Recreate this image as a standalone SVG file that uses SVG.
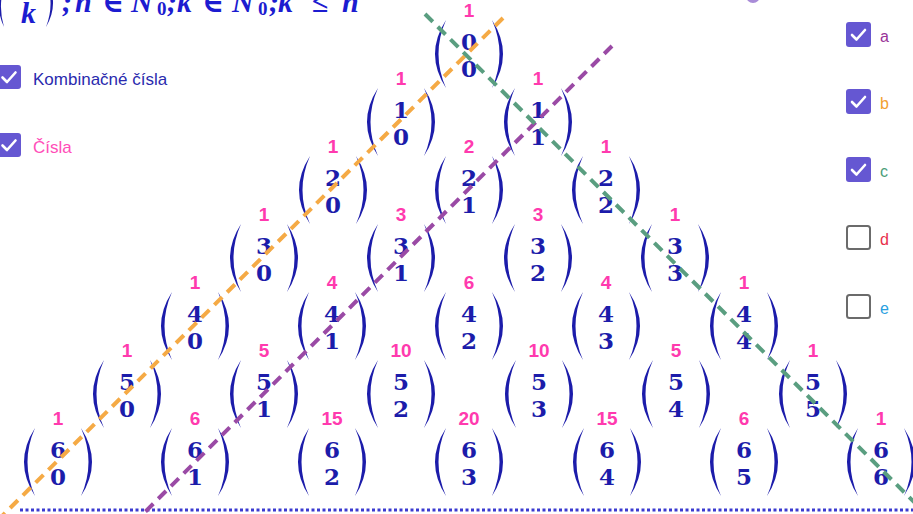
<svg xmlns="http://www.w3.org/2000/svg" xmlns:xlink="http://www.w3.org/1999/xlink" width="913" height="514" viewBox="0 0 913 514">
<style>
.v{font-family:"Liberation Sans",Arial,sans-serif;font-weight:bold;font-size:19px;fill:#ff3aae;text-anchor:middle}
.d{font-family:"DejaVu Serif","Liberation Serif",serif;font-weight:bold;font-size:23px;fill:#1c1caa;text-anchor:middle}
.p{fill:#1c1caa}
.f{font-family:"Liberation Serif","DejaVu Serif",serif;font-weight:bold;font-style:italic;font-size:30px;fill:#1c1cd0}
.fs{font-family:"Liberation Serif","DejaVu Serif",serif;font-weight:bold;font-size:19px;fill:#1c1cd0}
.lbl{font-family:"Liberation Sans",Arial,sans-serif;font-size:16px}
.on{fill:#6557d2}
.off{fill:#ffffff;stroke:#6b6b6b;stroke-width:2}
.chk{fill:none;stroke:#ffffff;stroke-width:2.6;stroke-linecap:round;stroke-linejoin:round}
.dash{fill:none;stroke-width:4;stroke-dasharray:11 7}
</style>
<defs>
<path id="lp" class="p" d="M -23 20 Q -45 54 -23 88 Q -38 54 -23 20 Z"/>
<path id="rp" class="p" d="M 23 20 Q 45 54 23 88 Q 38 54 23 20 Z"/>
<polyline id="tick" class="chk" points="5.5,12.5 10,17 18.5,7.5"/>
</defs>

<g id="formula">
<path class="p" d="M 6 -20 Q -7 4 4 27 Q -3 4 6 -20 Z"/>
<text class="f" x="21" y="23">k</text>
<path class="p" d="M 44 -25 Q 61 2 46 27 Q 56 2 44 -25 Z"/>
<text class="f" x="62" y="12">;</text>
<text class="f" x="75" y="12">n</text>
<text class="f" x="102" y="12" style="font-style:normal">∈</text>
<text class="f" x="131" y="12">N</text>
<text class="fs" x="157" y="15">0</text>
<text class="f" x="167" y="12">;</text>
<text class="f" x="177" y="12">k</text>
<text class="f" x="202" y="12" style="font-style:normal">∈</text>
<text class="f" x="232" y="12">N</text>
<text class="fs" x="258" y="15">0</text>
<text class="f" x="269" y="12">;</text>
<text class="f" x="278" y="12">k</text>
<text class="f" x="312" y="12" style="font-style:normal">≤</text>
<text class="f" x="342" y="12">n</text>
</g>

<circle id="slider-point" cx="753" cy="-4" r="7" fill="#a98cd8"/>

<g id="cb-komb">
<rect class="on" x="-3" y="65" width="24" height="24" rx="3"/>
<use xlink:href="#tick" x="-3" y="65"/>
<text class="lbl" x="33" y="85" style="font-size:17px" fill="#2a2aae">Kombinačné čísla</text>
</g>
<g id="cb-cisla">
<rect class="on" x="-3" y="133" width="24" height="24" rx="3"/>
<use xlink:href="#tick" x="-3" y="133"/>
<text class="lbl" x="33" y="153" style="font-size:17px" fill="#ff4db8">Čísla</text>
</g>

<g id="cb-a"><rect class="on" x="846" y="22" width="25" height="25" rx="3"/><use xlink:href="#tick" x="846.5" y="22.5"/><text class="lbl" x="880" y="42" fill="#993399">a</text></g>
<g id="cb-b"><rect class="on" x="846" y="89" width="25" height="25" rx="3"/><use xlink:href="#tick" x="846.5" y="89.5"/><text class="lbl" x="880" y="109" fill="#f2a030">b</text></g>
<g id="cb-c"><rect class="on" x="846" y="157" width="25" height="25" rx="3"/><use xlink:href="#tick" x="846.5" y="157.5"/><text class="lbl" x="880" y="177" fill="#4c9e7a">c</text></g>
<g id="cb-d"><rect class="off" x="847" y="226" width="23" height="23" rx="2.5"/><text class="lbl" x="880" y="245" fill="#e8304c">d</text></g>
<g id="cb-e"><rect class="off" x="847" y="295" width="23" height="23" rx="2.5"/><text class="lbl" x="880" y="314" fill="#2aa0e0">e</text></g>

<g id="nodes">
<g id="c0-0" transform="translate(469,0)"><text class="v" y="17">1</text><use xlink:href="#lp"/><use xlink:href="#rp"/><text class="d" y="50">0</text><text class="d" y="77">0</text></g>

<g id="c1-0" transform="translate(401,68)"><text class="v" y="17">1</text><use xlink:href="#lp"/><use xlink:href="#rp"/><text class="d" y="50">1</text><text class="d" y="77">0</text></g>
<g id="c1-1" transform="translate(538,68)"><text class="v" y="17">1</text><use xlink:href="#lp"/><use xlink:href="#rp"/><text class="d" y="50">1</text><text class="d" y="77">1</text></g>

<g id="c2-0" transform="translate(333,136)"><text class="v" y="17">1</text><use xlink:href="#lp"/><use xlink:href="#rp"/><text class="d" y="50">2</text><text class="d" y="77">0</text></g>
<g id="c2-1" transform="translate(469,136)"><text class="v" y="17">2</text><use xlink:href="#lp"/><use xlink:href="#rp"/><text class="d" y="50">2</text><text class="d" y="77">1</text></g>
<g id="c2-2" transform="translate(606,136)"><text class="v" y="17">1</text><use xlink:href="#lp"/><use xlink:href="#rp"/><text class="d" y="50">2</text><text class="d" y="77">2</text></g>

<g id="c3-0" transform="translate(264,204)"><text class="v" y="17">1</text><use xlink:href="#lp"/><use xlink:href="#rp"/><text class="d" y="50">3</text><text class="d" y="77">0</text></g>
<g id="c3-1" transform="translate(401,204)"><text class="v" y="17">3</text><use xlink:href="#lp"/><use xlink:href="#rp"/><text class="d" y="50">3</text><text class="d" y="77">1</text></g>
<g id="c3-2" transform="translate(538,204)"><text class="v" y="17">3</text><use xlink:href="#lp"/><use xlink:href="#rp"/><text class="d" y="50">3</text><text class="d" y="77">2</text></g>
<g id="c3-3" transform="translate(675,204)"><text class="v" y="17">1</text><use xlink:href="#lp"/><use xlink:href="#rp"/><text class="d" y="50">3</text><text class="d" y="77">3</text></g>

<g id="c4-0" transform="translate(195,272)"><text class="v" y="17">1</text><use xlink:href="#lp"/><use xlink:href="#rp"/><text class="d" y="50">4</text><text class="d" y="77">0</text></g>
<g id="c4-1" transform="translate(332,272)"><text class="v" y="17">4</text><use xlink:href="#lp"/><use xlink:href="#rp"/><text class="d" y="50">4</text><text class="d" y="77">1</text></g>
<g id="c4-2" transform="translate(469,272)"><text class="v" y="17">6</text><use xlink:href="#lp"/><use xlink:href="#rp"/><text class="d" y="50">4</text><text class="d" y="77">2</text></g>
<g id="c4-3" transform="translate(606,272)"><text class="v" y="17">4</text><use xlink:href="#lp"/><use xlink:href="#rp"/><text class="d" y="50">4</text><text class="d" y="77">3</text></g>
<g id="c4-4" transform="translate(744,272)"><text class="v" y="17">1</text><use xlink:href="#lp"/><use xlink:href="#rp"/><text class="d" y="50">4</text><text class="d" y="77">4</text></g>

<g id="c5-0" transform="translate(127,340)"><text class="v" y="17">1</text><use xlink:href="#lp"/><use xlink:href="#rp"/><text class="d" y="50">5</text><text class="d" y="77">0</text></g>
<g id="c5-1" transform="translate(264,340)"><text class="v" y="17">5</text><use xlink:href="#lp"/><use xlink:href="#rp"/><text class="d" y="50">5</text><text class="d" y="77">1</text></g>
<g id="c5-2" transform="translate(401,340)"><text class="v" y="17">10</text><use xlink:href="#lp"/><use xlink:href="#rp"/><text class="d" y="50">5</text><text class="d" y="77">2</text></g>
<g id="c5-3" transform="translate(539,340)"><text class="v" y="17">10</text><use xlink:href="#lp"/><use xlink:href="#rp"/><text class="d" y="50">5</text><text class="d" y="77">3</text></g>
<g id="c5-4" transform="translate(676,340)"><text class="v" y="17">5</text><use xlink:href="#lp"/><use xlink:href="#rp"/><text class="d" y="50">5</text><text class="d" y="77">4</text></g>
<g id="c5-5" transform="translate(813,340)"><text class="v" y="17">1</text><use xlink:href="#lp"/><use xlink:href="#rp"/><text class="d" y="50">5</text><text class="d" y="77">5</text></g>

<g id="c6-0" transform="translate(58,408)"><text class="v" y="17">1</text><use xlink:href="#lp"/><use xlink:href="#rp"/><text class="d" y="50">6</text><text class="d" y="77">0</text></g>
<g id="c6-1" transform="translate(195,408)"><text class="v" y="17">6</text><use xlink:href="#lp"/><use xlink:href="#rp"/><text class="d" y="50">6</text><text class="d" y="77">1</text></g>
<g id="c6-2" transform="translate(332,408)"><text class="v" y="17">15</text><use xlink:href="#lp"/><use xlink:href="#rp"/><text class="d" y="50">6</text><text class="d" y="77">2</text></g>
<g id="c6-3" transform="translate(469,408)"><text class="v" y="17">20</text><use xlink:href="#lp"/><use xlink:href="#rp"/><text class="d" y="50">6</text><text class="d" y="77">3</text></g>
<g id="c6-4" transform="translate(607,408)"><text class="v" y="17">15</text><use xlink:href="#lp"/><use xlink:href="#rp"/><text class="d" y="50">6</text><text class="d" y="77">4</text></g>
<g id="c6-5" transform="translate(744,408)"><text class="v" y="17">6</text><use xlink:href="#lp"/><use xlink:href="#rp"/><text class="d" y="50">6</text><text class="d" y="77">5</text></g>
<g id="c6-6" transform="translate(881,408)"><text class="v" y="17">1</text><use xlink:href="#lp"/><use xlink:href="#rp"/><text class="d" y="50">6</text><text class="d" y="77">6</text></g>
</g>

<g id="connectors">
<line x1="20" y1="510" x2="913" y2="510" stroke="#3a3ad0" stroke-width="3" stroke-dasharray="3 2.5"/>
<line class="dash" x1="503" y1="18" x2="-6" y2="524" stroke="#f5aa45"/>
<line class="dash" x1="612" y1="46" x2="138" y2="519" stroke="#9a4aa5"/>
<line class="dash" x1="425" y1="14" x2="918" y2="506" stroke="#5a9e80"/>
</g>
</svg>
